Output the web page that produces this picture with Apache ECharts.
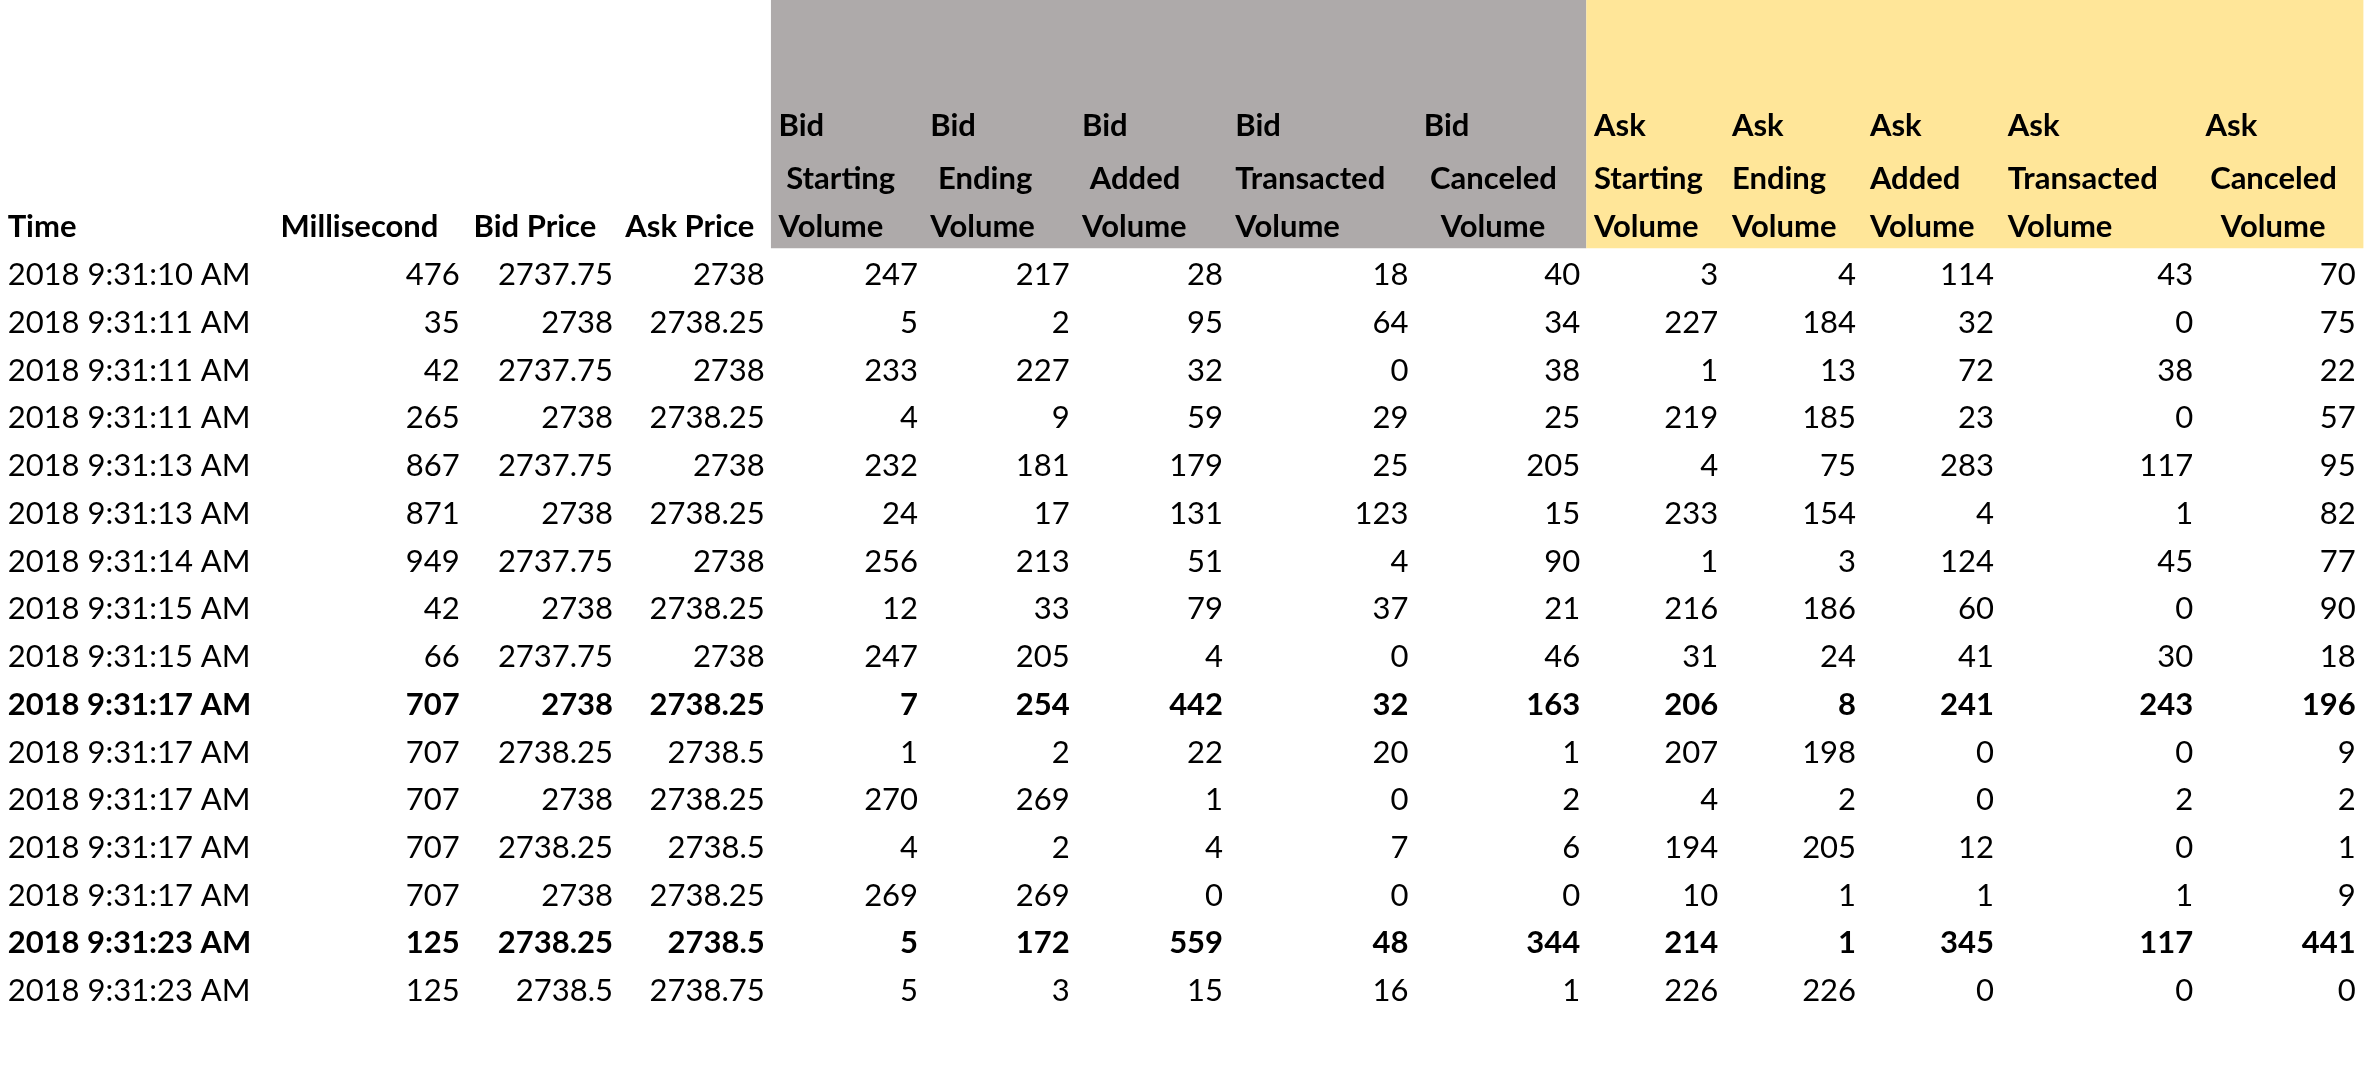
<!DOCTYPE html>
<html><head><meta charset="utf-8">
<script src="https://cdn.jsdelivr.net/npm/echarts@6/dist/echarts.min.js"></script>
<style>html,body{margin:0;padding:0;background:#fff}#c{width:2368px;height:1068px}</style>
</head><body><div id="c"></div>
<script>
const times = ["2018 9:31:10 AM","2018 9:31:11 AM","2018 9:31:11 AM","2018 9:31:11 AM","2018 9:31:13 AM","2018 9:31:13 AM","2018 9:31:14 AM","2018 9:31:15 AM","2018 9:31:15 AM","2018 9:31:17 AM","2018 9:31:17 AM","2018 9:31:17 AM","2018 9:31:17 AM","2018 9:31:17 AM","2018 9:31:23 AM","2018 9:31:23 AM"];
const millisecond = [476,35,42,265,867,871,949,42,66,707,707,707,707,707,125,125];
const bidPrice = [2737.75,2738,2737.75,2738,2737.75,2738,2737.75,2738,2737.75,2738,2738.25,2738,2738.25,2738,2738.25,2738.5];
const askPrice = [2738,2738.25,2738,2738.25,2738,2738.25,2738,2738.25,2738,2738.25,2738.5,2738.25,2738.5,2738.25,2738.5,2738.75];
const bidStarting = [247,5,233,4,232,24,256,12,247,7,1,270,4,269,5,5];
const bidEnding = [217,2,227,9,181,17,213,33,205,254,2,269,2,269,172,3];
const bidAdded = [28,95,32,59,179,131,51,79,4,442,22,1,4,0,559,15];
const bidTransacted = [18,64,0,29,25,123,4,37,0,32,20,0,7,0,48,16];
const bidCanceled = [40,34,38,25,205,15,90,21,46,163,1,2,6,0,344,1];
const askStarting = [3,227,1,219,4,233,1,216,31,206,207,4,194,10,214,226];
const askEnding = [4,184,13,185,75,154,3,186,24,8,198,2,205,1,1,226];
const askAdded = [114,32,72,23,283,4,124,60,41,241,0,0,12,1,345,0];
const askTransacted = [43,0,38,0,117,1,45,0,30,243,0,2,0,1,117,0];
const askCanceled = [70,75,22,57,95,82,77,90,18,196,9,2,1,9,441,0];
const boldRows = [9,14];
const headers = [["","","Time"],["","","Millisecond"],["","","Bid Price"],["","","Ask Price"],
["Bid","Starting","Volume"],["Bid","Ending","Volume"],["Bid","Added","Volume"],["Bid","Transacted","Volume"],["Bid","Canceled","Volume"],
["Ask","Starting","Volume"],["Ask","Ending","Volume"],["Ask","Added","Volume"],["Ask","Transacted","Volume"],["Ask","Canceled","Volume"]];

const sx = 2368/1545, sy = 1068/710;
const cols = [times,millisecond,bidPrice,askPrice,bidStarting,bidEnding,bidAdded,bidTransacted,bidCanceled,askStarting,askEnding,askAdded,askTransacted,askCanceled];
const rightEdge = [null,300,400,499,599,698,798,919,1031,1121,1211,1301,1431,1537];
const hdrX = [[5,5,5],[183,183,183],[309,309,309],[408,408,408],
[508,513,508],[607,612,607],[706,711,706],[806,806,806],[929,933,940],
[1040,1040,1040],[1130,1130,1130],[1220,1220,1220],[1310,1310,1310],[1439,1442,1449]];
const hdrY = [84,119,151];
const font = "Lato, 'Open Sans', sans-serif";
const fs = 31;
const g = [];
g.push({type:'rect',shape:{x:503*sx,y:0,width:(1035-503)*sx,height:165*sy},style:{fill:'#aeaaaa'}});
g.push({type:'rect',shape:{x:1035*sx,y:0,width:(1542-1035)*sx,height:165*sy},style:{fill:'#ffe699'}});
headers.forEach((h,ci)=>{h.forEach((t,li)=>{ if(!t) return;
 g.push({type:'text',x:hdrX[ci][li]*sx,y:hdrY[li]*sy,style:{text:t,font:`bold ${fs}px ${font}`,fill:'#000',textVerticalAlign:'middle',textAlign:'left'}});});});
for(let r=0;r<times.length;r++){
 const y=(183+r*31.73)*sy;
 const w=boldRows.includes(r)?'bold ':'';
 cols.forEach((col,ci)=>{
  const left = ci===0;
  g.push({type:'text',x:left?5*sx:rightEdge[ci]*sx,y:y,style:{text:String(col[r]),font:`${w}${fs}px ${font}`,fill:'#000',textAlign:left?'left':'right',textVerticalAlign:'middle'}});
 });
}
const chart = echarts.init(document.getElementById('c'));
chart.setOption({animation:false,backgroundColor:'#fff',graphic:g});
</script></body></html>
